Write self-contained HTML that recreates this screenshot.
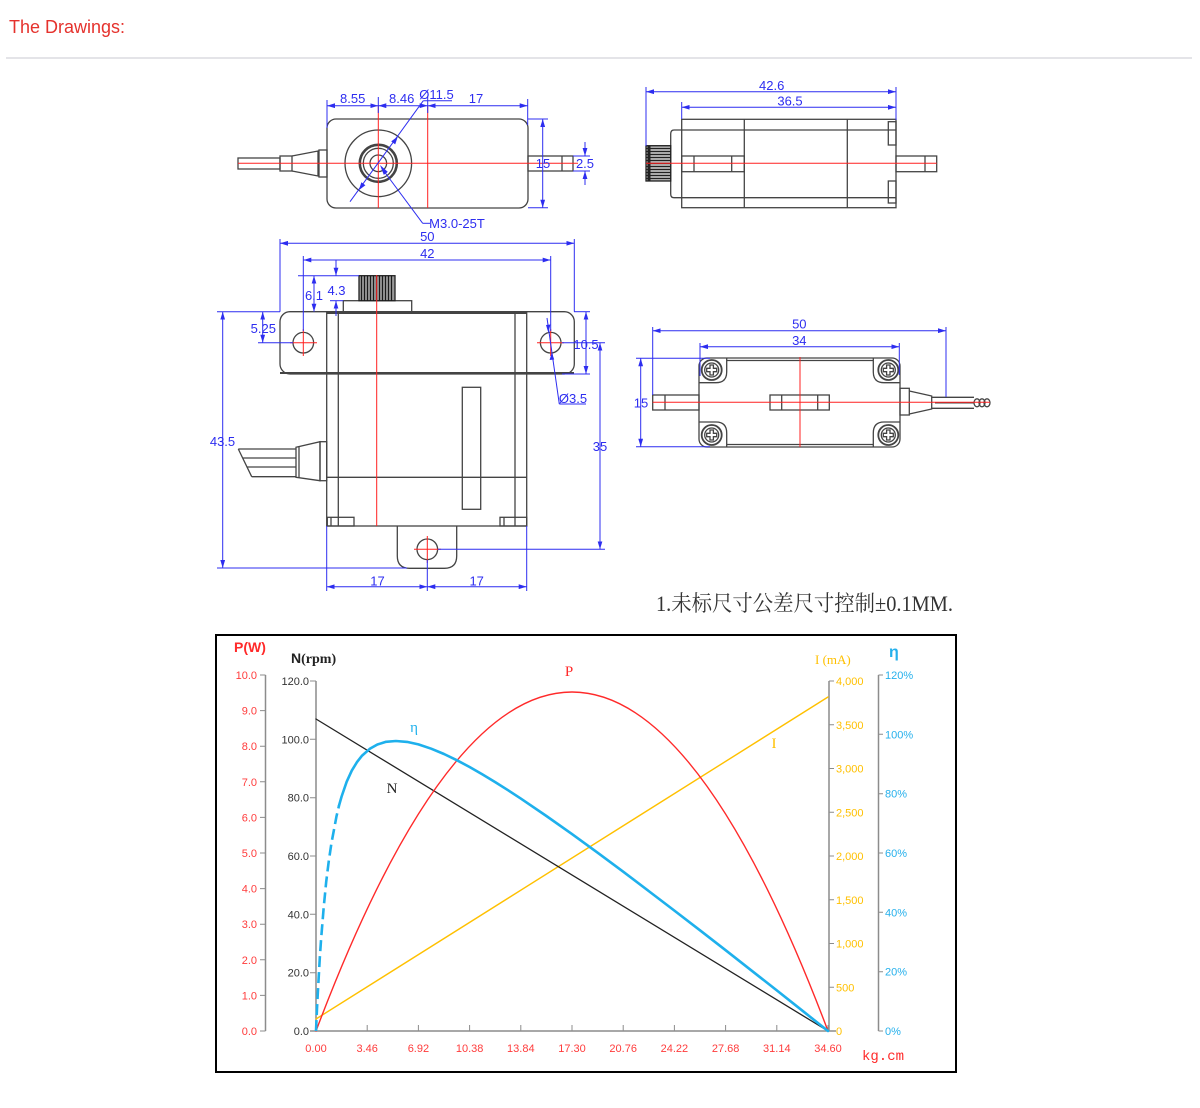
<!DOCTYPE html>
<html><head><meta charset="utf-8"><style>
html,body{margin:0;padding:0;background:#fff;}
svg{display:block;}
</style></head><body>
<svg width="1200" height="1108" viewBox="0 0 1200 1108" xmlns="http://www.w3.org/2000/svg">
<defs>
<marker id="a" viewBox="0 0 10 6" refX="10" refY="3" markerWidth="8" markerHeight="5" markerUnits="userSpaceOnUse" orient="auto-start-reverse"><path d="M0,0L10,3L0,6z" fill="#2d2df0"/></marker>
</defs>

<text x="9" y="33" font-family="Liberation Sans, sans-serif" font-size="18" fill="#e5322d">The Drawings:</text>
<rect x="6" y="57" width="1186" height="2" fill="#e4e4e8"/>

<!-- ============ VIEW 1 (top-left) ============ -->
<g fill="none" stroke="#444" stroke-width="1.3">
<rect x="327" y="119" width="201" height="89" rx="9"/>
<rect x="528" y="156" width="45" height="15"/>
<line x1="562" y1="156" x2="562" y2="171"/>
<rect x="238" y="158" width="42" height="11"/>
<rect x="280" y="156" width="12" height="15"/>
<path d="M292,156 L318,151 L318,176 L292,171"/>
<rect x="319" y="150" width="8" height="27"/>
<circle cx="378.3" cy="163.3" r="33.3"/>
<circle cx="378.3" cy="163.3" r="18.5" stroke-width="2.6"/>
<circle cx="378.3" cy="163.3" r="15"/>
<circle cx="378.3" cy="163.3" r="8.3"/>
</g>
<g stroke="#ff2020" stroke-width="1">
<line x1="238" y1="163.3" x2="578" y2="163.3"/>
<line x1="378.3" y1="105" x2="378.3" y2="208"/>
<line x1="427.7" y1="106" x2="427.7" y2="208"/>
</g>
<g stroke="#2d2df0" stroke-width="1" fill="none">
<line x1="327" y1="105.7" x2="378.3" y2="105.7" marker-start="url(#a)" marker-end="url(#a)"/>
<line x1="378.3" y1="105.7" x2="427.7" y2="105.7" marker-start="url(#a)" marker-end="url(#a)"/>
<line x1="427.7" y1="105.7" x2="527.7" y2="105.7" marker-start="url(#a)" marker-end="url(#a)"/>
<line x1="327" y1="100" x2="327" y2="128"/>
<line x1="378.3" y1="97" x2="378.3" y2="113"/>
<line x1="427.7" y1="97" x2="427.7" y2="113"/>
<line x1="527.7" y1="99" x2="527.7" y2="125"/>
<line x1="350" y1="201.7" x2="423.3" y2="100.7"/>
<line x1="423.3" y1="100.7" x2="452" y2="100.7"/>
<line x1="382" y1="168.5" x2="422.7" y2="223.3"/>
<line x1="422.7" y1="223.3" x2="430" y2="223.3"/>
<line x1="542.7" y1="119" x2="542.7" y2="207.7" marker-start="url(#a)" marker-end="url(#a)"/>
<line x1="528" y1="119" x2="548" y2="119"/>
<line x1="528" y1="207.7" x2="548" y2="207.7"/>
<line x1="585" y1="142" x2="585" y2="156" marker-end="url(#a)"/>
<line x1="585" y1="185" x2="585" y2="171" marker-end="url(#a)"/>
<line x1="573" y1="156" x2="590" y2="156"/>
<line x1="573" y1="171" x2="590" y2="171"/>
</g>
<g fill="#2d2df0">
<polygon points="397.9,136.4 395.2,144.4 391.2,141.4"/>
<polygon points="358.7,190.2 365.4,185.2 361.4,182.2"/>
<polygon points="380,165 387.8,171.9 383.8,174.9"/>
</g>
<g font-family="Liberation Sans, sans-serif" font-size="13" fill="#2d2df0" text-anchor="middle">
<text x="352.7" y="103">8.55</text>
<text x="401.7" y="103">8.46</text>
<text x="436.5" y="99">Ø11.5</text>
<text x="476" y="103">17</text>
<text x="457" y="228">M3.0-25T</text>
<text x="543" y="168">15</text>
<text x="585" y="168">2.5</text>
</g>

<!-- ============ VIEW 2 (top-right) ============ -->
<g fill="none" stroke="#444" stroke-width="1.3">
<rect x="681.7" y="119.3" width="214.3" height="88.4"/>
<line x1="681.7" y1="130" x2="896" y2="130"/>
<line x1="681.7" y1="197.7" x2="896" y2="197.7"/>
<line x1="744.3" y1="119.3" x2="744.3" y2="207.7"/>
<line x1="847.3" y1="119.3" x2="847.3" y2="207.7"/>
<rect x="681.7" y="156" width="62.6" height="15.7"/>
<line x1="694" y1="156" x2="694" y2="171.7"/>
<line x1="731.7" y1="156" x2="731.7" y2="171.7"/>
<rect x="888.3" y="121.7" width="7.7" height="23.3"/>
<rect x="888.3" y="181" width="7.7" height="22"/>
<rect x="896" y="156" width="40.7" height="15.7"/>
<line x1="925" y1="156" x2="925" y2="171.7"/>
<path d="M681.7,130 L674,130 Q670.7,130 670.7,134 L670.7,194 Q670.7,197.7 674,197.7 L681.7,197.7"/>
<rect x="646" y="145.7" width="24.7" height="35.3" fill="#aaa" stroke="#222"/>
</g>
<g stroke="#222" stroke-width="1.1">
<line x1="646" y1="148.5" x2="670.7" y2="148.5"/><line x1="646" y1="151.5" x2="670.7" y2="151.5"/>
<line x1="646" y1="154.5" x2="670.7" y2="154.5"/><line x1="646" y1="157.5" x2="670.7" y2="157.5"/>
<line x1="646" y1="160.5" x2="670.7" y2="160.5"/><line x1="646" y1="163.5" x2="670.7" y2="163.5"/>
<line x1="646" y1="166.5" x2="670.7" y2="166.5"/><line x1="646" y1="169.5" x2="670.7" y2="169.5"/>
<line x1="646" y1="172.5" x2="670.7" y2="172.5"/><line x1="646" y1="175.5" x2="670.7" y2="175.5"/>
<line x1="646" y1="178.5" x2="670.7" y2="178.5"/>
<line x1="649" y1="145.7" x2="649" y2="181" stroke-width="3"/>
</g>
<line x1="646" y1="163.3" x2="936.7" y2="163.3" stroke="#ff2020" stroke-width="1"/>
<g stroke="#2d2df0" stroke-width="1" fill="none">
<line x1="646" y1="91.7" x2="896" y2="91.7" marker-start="url(#a)" marker-end="url(#a)"/>
<line x1="681.7" y1="107.3" x2="896" y2="107.3" marker-start="url(#a)" marker-end="url(#a)"/>
<line x1="646" y1="87" x2="646" y2="146"/>
<line x1="896" y1="87" x2="896" y2="120"/>
<line x1="681.7" y1="102" x2="681.7" y2="119"/>
</g>
<g font-family="Liberation Sans, sans-serif" font-size="13" fill="#2d2df0" text-anchor="middle">
<text x="771.7" y="90">42.6</text>
<text x="790" y="105.5">36.5</text>
</g>

<!-- ============ VIEW 3 (front) ============ -->
<g fill="none" stroke="#444" stroke-width="1.3">
<rect x="280" y="311.7" width="294.3" height="62.3" rx="10"/>
<line x1="326.7" y1="313" x2="526.7" y2="313" stroke-width="2"/>
<line x1="280" y1="373" x2="574" y2="373" stroke-width="2"/>
<rect x="326.7" y="311.7" width="200" height="214.3"/>
<line x1="338.3" y1="311.7" x2="338.3" y2="526"/>
<line x1="515" y1="311.7" x2="515" y2="526"/>
<line x1="326.7" y1="477.3" x2="526.7" y2="477.3"/>
<rect x="327.3" y="517.3" width="26.7" height="8.7"/>
<line x1="331" y1="517.3" x2="331" y2="526"/>
<rect x="500" y="517.3" width="26.7" height="8.7"/>
<line x1="504" y1="517.3" x2="504" y2="526"/>
<rect x="343.3" y="300.7" width="68.4" height="11"/>
<rect x="462.3" y="387.3" width="18.4" height="122"/>
<path d="M397.3,526 L397.3,556 Q397.3,568.3 409.6,568.3 L444.4,568.3 Q456.7,568.3 456.7,556 L456.7,526"/>
<circle cx="303.3" cy="342.7" r="10.3"/>
<circle cx="550.7" cy="342.7" r="10.3"/>
<circle cx="427.3" cy="549.3" r="10.3"/>
<path d="M238.3,449 L296,449 M251.7,476.7 L296,476.7 M238.3,449 L251.7,476.7 M242.5,458 L296,458 M246.5,467 L296,467"/>
<path d="M296,447.3 L320,441.7 L320,480.7 L296,477.3 Z"/>
<line x1="299" y1="446.6" x2="299" y2="478" />
<rect x="320" y="441.7" width="6.7" height="39"/>
<rect x="359" y="275.7" width="36" height="25" fill="#9a9a9a" stroke="#222"/>
</g>
<g stroke="#1a1a1a" stroke-width="1.2">
<line x1="361.5" y1="275.7" x2="361.5" y2="300.7"/><line x1="364.5" y1="275.7" x2="364.5" y2="300.7"/>
<line x1="367.5" y1="275.7" x2="367.5" y2="300.7"/><line x1="370.5" y1="275.7" x2="370.5" y2="300.7"/>
<line x1="373.5" y1="275.7" x2="373.5" y2="300.7"/><line x1="376.5" y1="275.7" x2="376.5" y2="300.7"/>
<line x1="379.5" y1="275.7" x2="379.5" y2="300.7"/><line x1="382.5" y1="275.7" x2="382.5" y2="300.7"/>
<line x1="385.5" y1="275.7" x2="385.5" y2="300.7"/><line x1="388.5" y1="275.7" x2="388.5" y2="300.7"/>
<line x1="391.5" y1="275.7" x2="391.5" y2="300.7"/>
</g>
<g stroke="#ff2020" stroke-width="1">
<line x1="376.7" y1="275" x2="376.7" y2="526"/>
<line x1="290" y1="342.7" x2="317" y2="342.7"/><line x1="303.3" y1="329" x2="303.3" y2="356"/>
<line x1="537" y1="342.7" x2="564" y2="342.7"/><line x1="550.7" y1="329" x2="550.7" y2="356"/>
<line x1="414" y1="549.3" x2="441" y2="549.3"/><line x1="427.3" y1="536" x2="427.3" y2="563"/>
</g>
<g stroke="#2d2df0" stroke-width="1" fill="none">
<line x1="280" y1="243.3" x2="574.3" y2="243.3" marker-start="url(#a)" marker-end="url(#a)"/>
<line x1="303.3" y1="260" x2="550.7" y2="260" marker-start="url(#a)" marker-end="url(#a)"/>
<line x1="280" y1="239" x2="280" y2="311.7"/>
<line x1="574.3" y1="239" x2="574.3" y2="311.7"/>
<line x1="303.3" y1="256" x2="303.3" y2="331"/>
<line x1="550.7" y1="256" x2="550.7" y2="331"/>
<line x1="314" y1="275.7" x2="314" y2="311.7" marker-start="url(#a)" marker-end="url(#a)"/>
<line x1="298" y1="275.7" x2="359" y2="275.7"/>
<line x1="336" y1="260" x2="336" y2="275.7" marker-end="url(#a)"/>
<line x1="336" y1="316" x2="336" y2="300.7" marker-end="url(#a)"/>
<line x1="330" y1="300.7" x2="343.3" y2="300.7"/>
<line x1="262.7" y1="311.7" x2="262.7" y2="342.7" marker-start="url(#a)" marker-end="url(#a)"/>
<line x1="258" y1="342.7" x2="293" y2="342.7"/>
<line x1="222.7" y1="311.7" x2="222.7" y2="568" marker-start="url(#a)" marker-end="url(#a)"/>
<line x1="217" y1="311.7" x2="280" y2="311.7"/>
<line x1="217" y1="568" x2="407" y2="568"/>
<line x1="586" y1="311.7" x2="586" y2="374" marker-start="url(#a)" marker-end="url(#a)"/>
<line x1="574" y1="311.7" x2="590" y2="311.7"/>
<line x1="562" y1="374" x2="590" y2="374"/>
<line x1="600" y1="342.7" x2="600" y2="549.3" marker-start="url(#a)" marker-end="url(#a)"/>
<line x1="562" y1="342.7" x2="605" y2="342.7"/>
<line x1="438" y1="549.3" x2="605" y2="549.3"/>
<line x1="326.7" y1="586.7" x2="427.3" y2="586.7" marker-start="url(#a)" marker-end="url(#a)"/>
<line x1="427.3" y1="586.7" x2="526.7" y2="586.7" marker-start="url(#a)" marker-end="url(#a)"/>
<line x1="326.7" y1="526" x2="326.7" y2="591"/>
<line x1="526.7" y1="526" x2="526.7" y2="591"/>
<line x1="427.3" y1="560" x2="427.3" y2="591"/>
<line x1="547" y1="318" x2="559.3" y2="404"/>
<line x1="559.3" y1="404" x2="586" y2="404"/>
</g>
<g fill="#2d2df0">
<polygon points="548.3,332.5 546,325 550.5,324.5"/>
<polygon points="551.8,352.5 549.6,360 554.2,359.5"/>
</g>
<g font-family="Liberation Sans, sans-serif" font-size="13" fill="#2d2df0" text-anchor="middle">
<text x="427.3" y="241">50</text>
<text x="427.3" y="258">42</text>
<text x="314" y="300">6.1</text>
<text x="336.5" y="295">4.3</text>
<text x="263.3" y="333">5.25</text>
<text x="222.5" y="446">43.5</text>
<text x="586" y="349">10.5</text>
<text x="573" y="403">Ø3.5</text>
<text x="600" y="451">35</text>
<text x="377.5" y="585.5">17</text>
<text x="476.7" y="585.5">17</text>
</g>

<!-- ============ VIEW 4 (bottom) ============ -->
<g fill="none" stroke="#444" stroke-width="1.3">
<rect x="699" y="358" width="201" height="89" rx="8"/>
<line x1="726.7" y1="360.5" x2="873.3" y2="360.5"/>
<line x1="726.7" y1="444.5" x2="873.3" y2="444.5"/>
<path d="M699,382.7 L716,382.7 Q726.7,382.7 726.7,372 L726.7,358"/>
<path d="M900,382.7 L884,382.7 Q873.3,382.7 873.3,372 L873.3,358"/>
<path d="M699,422 L716,422 Q726.7,422 726.7,433 L726.7,447"/>
<path d="M900,422 L884,422 Q873.3,422 873.3,433 L873.3,447"/>
<circle cx="711.7" cy="370" r="10" stroke-width="1.8"/><circle cx="711.7" cy="370" r="7"/>
<circle cx="888.3" cy="370" r="10" stroke-width="1.8"/><circle cx="888.3" cy="370" r="7"/>
<circle cx="711.7" cy="435" r="10" stroke-width="1.8"/><circle cx="711.7" cy="435" r="7"/>
<circle cx="888.3" cy="435" r="10" stroke-width="1.8"/><circle cx="888.3" cy="435" r="7"/>
<path d="M710,365 V368.3 H706.7 V371.7 H710 V375 H713.4 V371.7 H716.7 V368.3 H713.4 V365 Z"/>
<path d="M886.6,365 V368.3 H883.3 V371.7 H886.6 V375 H890 V371.7 H893.3 V368.3 H890 V365 Z"/>
<path d="M710,430 V433.3 H706.7 V436.7 H710 V440 H713.4 V436.7 H716.7 V433.3 H713.4 V430 Z"/>
<path d="M886.6,430 V433.3 H883.3 V436.7 H886.6 V440 H890 V436.7 H893.3 V433.3 H890 V430 Z"/>
<rect x="652.7" y="395" width="46.3" height="15"/>
<line x1="665" y1="395" x2="665" y2="410"/>
<rect x="770" y="395" width="59.3" height="15"/>
<line x1="781.7" y1="395" x2="781.7" y2="410"/>
<line x1="817.7" y1="395" x2="817.7" y2="410"/>
<rect x="900" y="388.3" width="9.3" height="26.7"/>
<path d="M909.3,391 L931.7,396 L931.7,409 L909.3,414"/>
<path d="M931.7,397.3 L974,397.3 M931.7,408.3 L974,408.3 M935,402.8 L974,402.8"/>
<ellipse cx="977" cy="402.8" rx="3" ry="4"/>
<ellipse cx="982" cy="402.8" rx="3" ry="4"/>
<ellipse cx="987" cy="402.8" rx="3" ry="4"/>
</g>
<g stroke="#ff2020" stroke-width="1">
<line x1="652.7" y1="402.3" x2="990" y2="402.3"/>
<line x1="800" y1="357" x2="800" y2="447"/>
</g>
<g stroke="#2d2df0" stroke-width="1" fill="none">
<line x1="652.7" y1="330.7" x2="946" y2="330.7" marker-start="url(#a)" marker-end="url(#a)"/>
<line x1="700" y1="346.7" x2="899.3" y2="346.7" marker-start="url(#a)" marker-end="url(#a)"/>
<line x1="652.7" y1="327" x2="652.7" y2="395"/>
<line x1="946" y1="327" x2="946" y2="397"/>
<line x1="700" y1="343" x2="700" y2="376"/>
<line x1="899.3" y1="343" x2="899.3" y2="375"/>
<line x1="640.7" y1="358.3" x2="640.7" y2="446.7" marker-start="url(#a)" marker-end="url(#a)"/>
<line x1="636" y1="358.3" x2="710" y2="358.3"/>
<line x1="636" y1="446.7" x2="710" y2="446.7"/>
</g>
<g font-family="Liberation Sans, sans-serif" font-size="13" fill="#2d2df0" text-anchor="middle">
<text x="799.3" y="328.5">50</text>
<text x="799.3" y="345">34</text>
<text x="641" y="407.5">15</text>
</g>

<!-- Note -->
<text x="656" y="611" font-family="Liberation Serif, 'Noto Serif CJK SC', serif" font-size="22" fill="#333" textLength="297" lengthAdjust="spacingAndGlyphs">1.未标尺寸公差尺寸控制±0.1MM.</text>

<!-- ============ CHART ============ -->
<rect x="216" y="635" width="740" height="437" fill="none" stroke="#000" stroke-width="2"/>
<g stroke="#8c8c8c" stroke-width="1.5" fill="none">
<line x1="265.5" y1="675" x2="265.5" y2="1031"/>
<line x1="316" y1="681" x2="316" y2="1031"/>
<line x1="829" y1="681" x2="829" y2="1031"/>
<line x1="878.5" y1="675" x2="878.5" y2="1031"/>
<line x1="310" y1="1031" x2="836" y2="1031"/>
</g>
<g stroke="#8c8c8c" stroke-width="1">
<path d="M260,675H265.5M260,710.6H265.5M260,746.2H265.5M260,781.8H265.5M260,817.4H265.5M260,853H265.5M260,888.6H265.5M260,924.2H265.5M260,959.8H265.5M260,995.4H265.5M260,1031H265.5"/>
<path d="M310,681H316M310,739.3H316M310,797.7H316M310,856H316M310,914.3H316M310,972.7H316M310,1031H316"/>
<path d="M829,681H834M829,724.75H834M829,768.5H834M829,812.25H834M829,856H834M829,899.75H834M829,943.5H834M829,987.25H834M829,1031H834"/>
<path d="M878.5,675H883M878.5,734.3H883M878.5,793.7H883M878.5,853H883M878.5,912.3H883M878.5,971.7H883M878.5,1031H883"/>
<path d="M316,1025V1031M367.2,1025V1031M418.4,1025V1031M469.6,1025V1031M520.8,1025V1031M572,1025V1031M623.2,1025V1031M674.4,1025V1031M725.6,1025V1031M776.8,1025V1031M828,1025V1031"/>
</g>

<g font-family="Liberation Sans, sans-serif" font-size="11">
<g fill="#ff3b3b" text-anchor="end">
<text x="257" y="679">10.0</text><text x="257" y="714.6">9.0</text><text x="257" y="750.2">8.0</text>
<text x="257" y="785.8">7.0</text><text x="257" y="821.4">6.0</text><text x="257" y="857">5.0</text>
<text x="257" y="892.6">4.0</text><text x="257" y="928.2">3.0</text><text x="257" y="963.8">2.0</text>
<text x="257" y="999.4">1.0</text><text x="257" y="1035">0.0</text>
</g>
<g fill="#333" text-anchor="end">
<text x="309" y="685">120.0</text><text x="309" y="743.3">100.0</text><text x="309" y="801.7">80.0</text>
<text x="309" y="860">60.0</text><text x="309" y="918.3">40.0</text><text x="309" y="976.7">20.0</text>
<text x="309" y="1035">0.0</text>
</g>
<g fill="#ffc000">
<text x="836" y="685">4,000</text><text x="836" y="728.75">3,500</text><text x="836" y="772.5">3,000</text>
<text x="836" y="816.25">2,500</text><text x="836" y="860">2,000</text><text x="836" y="903.75">1,500</text>
<text x="836" y="947.5">1,000</text><text x="836" y="991.25">500</text><text x="836" y="1035">0</text>
</g>
<g fill="#25b0ec">
<text x="885" y="679">120%</text><text x="885" y="738.3">100%</text><text x="885" y="797.7">80%</text>
<text x="885" y="857">60%</text><text x="885" y="916.3">40%</text><text x="885" y="975.7">20%</text>
<text x="885" y="1035">0%</text>
</g>
<g fill="#ff3b3b" text-anchor="middle">
<text x="316" y="1052">0.00</text><text x="367.2" y="1052">3.46</text><text x="418.4" y="1052">6.92</text>
<text x="469.6" y="1052">10.38</text><text x="520.8" y="1052">13.84</text><text x="572" y="1052">17.30</text>
<text x="623.2" y="1052">20.76</text><text x="674.4" y="1052">24.22</text><text x="725.6" y="1052">27.68</text>
<text x="776.8" y="1052">31.14</text><text x="828" y="1052">34.60</text>
</g>
</g>

<!-- axis titles -->
<text x="234" y="652" font-family="Liberation Sans, sans-serif" font-size="14" font-weight="bold" fill="#ff2a2a">P(W)</text>
<text x="291" y="663" font-family="Liberation Sans, sans-serif" font-size="14" font-weight="bold" fill="#222">N<tspan font-family="Liberation Serif, serif" font-size="14">(rpm)</tspan></text>
<text x="815" y="664" font-family="Liberation Serif, serif" font-size="13" fill="#ffc000">I (mA)</text>
<text x="889" y="657" font-family="Liberation Sans, sans-serif" font-size="16" font-weight="bold" fill="#25b0ec">η</text>
<text x="862" y="1060" font-family="Liberation Mono, monospace" font-size="14" fill="#ff2a2a">kg.cm</text>

<!-- curves -->
<g fill="none" stroke-linejoin="round" stroke-linecap="round">
<line x1="316" y1="1019" x2="828" y2="697" stroke="#ffc000" stroke-width="1.4"/>
<line x1="316" y1="719" x2="828" y2="1031" stroke="#222" stroke-width="1.3"/>
<path d="M316,1031 Q572,353 828,1031" stroke="#ff2a2a" stroke-width="1.4"/>
<polyline stroke="#1eb0ec" stroke-width="2.6" stroke-dasharray="11,5" stroke-linecap="butt" points="316,1031 316.5,1019.4 317,1008.5 317.8,993.2 318.6,979.1 319.8,957.8 321.1,939.1 323.7,907.4 326.2,881.8 328.8,860.9 331.4,843.4 336.5,816.3 339,805.6"/>
<polyline stroke="#1eb0ec" stroke-width="2.6" points="339,805.6 341.6,796.5 346.7,781.7 351.8,770.6 357,762.1 362.1,755.6 369.8,748.8 377.4,744.5 386.1,741.8 395.9,741 407.1,741.9 418.4,744.4 431.2,748.7 444,754 456.8,760.2 469.6,767 482.4,774.4 495.2,782.1 508,790.2 520.8,798.6 546.4,816 572,834.1 597.6,852.7 623.2,871.7 648.8,891.1 674.4,910.6 700,930.3 725.6,950.2 751.2,970.3 776.8,990.4 802.4,1010.7 828,1031"/>
</g>
<g font-family="Liberation Serif, serif" font-size="15">
<text x="569" y="676" fill="#ff2a2a" text-anchor="middle">P</text>
<text x="414" y="732" fill="#1eb0ec" text-anchor="middle">η</text>
<text x="392" y="793" fill="#222" text-anchor="middle">N</text>
<text x="774" y="748" fill="#ffc000" text-anchor="middle">I</text>
</g>
</svg>
</body></html>
